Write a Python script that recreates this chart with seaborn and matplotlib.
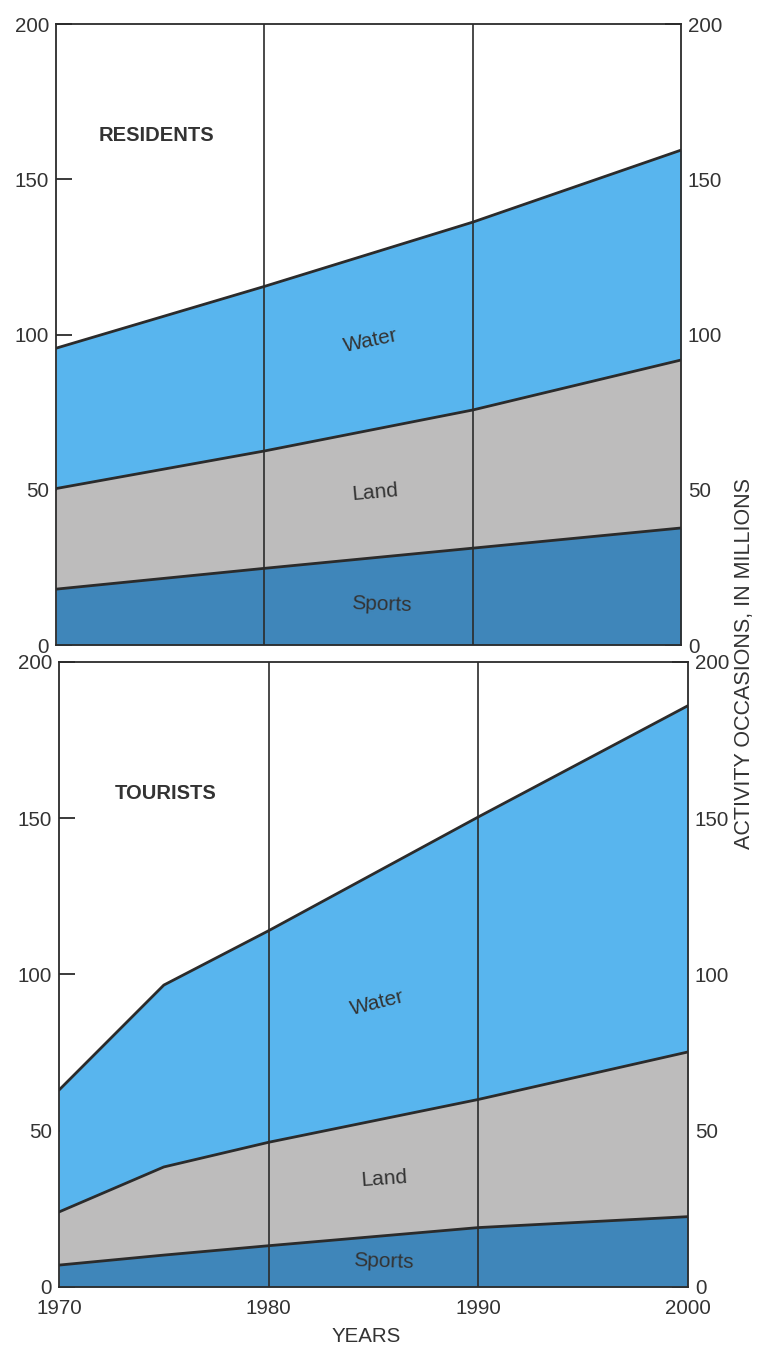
import matplotlib
matplotlib.use("Agg")
import matplotlib.pyplot as plt
import seaborn as sns
import pandas as pd

sns.set_theme(style="white")
plt.rcParams["font.family"] = ["Liberation Sans", "DejaVu Sans"]

# Cumulative layer tops (activity occasions, millions)
res_years = [1970, 1980, 1990, 2000]
res_sports = [18, 24.7, 31.2, 37.7]
res_land = [50.4, 62.5, 75.7, 91.8]
res_water = [95.6, 115.5, 136.2, 159.4]

tour_years = [1970, 1975, 1980, 1990, 2000]
tour_sports = [7, 10.2, 13.2, 19.0, 22.5]
tour_land = [24, 38.4, 46.3, 60, 75.2]
tour_water = [63, 96.6, 114, 150.4, 186]

layer_names = ["Sports", "Land", "Water"]
layer_colors = {"Sports": "#3f86ba", "Land": "#bdbcbc", "Water": "#58b5ee"}
y_ticks = [0, 50, 100, 150, 200]
x_ticks = [1970, 1980, 1990, 2000]

INK = "#2b2b2b"
TEXT = "#333333"
FS = 14.8

fig = plt.figure(figsize=(7.6, 13.52), dpi=100)
ax_top = fig.add_axes([0.0737, 0.5229, 0.8224, 0.4593])
ax_bot = fig.add_axes([0.0776, 0.0481, 0.8276, 0.4623])


def draw_panel(ax, years, sports, land, water, title, title_xy, labels):
    df = pd.DataFrame({"year": years, "Sports": sports, "Land": land, "Water": water})
    base = [0] * len(years)
    for name in layer_names:
        ax.fill_between(df["year"], base, df[name], color=layer_colors[name],
                        linewidth=0, zorder=1)
        base = list(df[name])
    long = df.melt(id_vars="year", var_name="layer", value_name="value")
    sns.lineplot(data=long, x="year", y="value", units="layer", estimator=None,
                 color=INK, linewidth=2.0, ax=ax, zorder=3, legend=False)
    for yr in (1980, 1990):
        ax.axvline(yr, color=INK, linewidth=1.2, zorder=2)

    ax.set_xlim(1970, 2000)
    ax.set_ylim(0, 200)
    ax.set_xlabel("")
    ax.set_ylabel("")
    ax.set_yticks(y_ticks)
    ax.set_xticks(x_ticks)
    for sp in ax.spines.values():
        sp.set_color(INK)
        sp.set_linewidth(1.3)
        sp.set_visible(True)
    ax.tick_params(axis="y", which="major", direction="in", length=11.5, width=1.3,
                   color=INK, labelsize=FS, labelcolor=TEXT, pad=5,
                   left=True, right=True, labelleft=True, labelright=True)
    ax.tick_params(axis="x", length=0, labelsize=FS, labelcolor=TEXT, pad=9)

    ax.text(title_xy[0], title_xy[1], title, fontsize=14.5, fontweight="bold",
            color=TEXT, ha="center", va="center")
    for text, (x, y, rot) in labels.items():
        ax.text(x, y, text, fontsize=15, color=TEXT, ha="center", va="center",
                rotation=rot, zorder=4)


draw_panel(ax_top, res_years, res_sports, res_land, res_water, "RESIDENTS",
           (1974.8, 164),
           {"Water": (1985.1, 98, 12), "Land": (1985.3, 49, 5), "Sports": (1985.6, 13, -2)})
draw_panel(ax_bot, tour_years, tour_sports, tour_land, tour_water, "TOURISTS",
           (1975.1, 158),
           {"Water": (1985.2, 91, 14), "Land": (1985.5, 34.5, 4), "Sports": (1985.5, 8, -2)})

ax_top.tick_params(axis="x", labelbottom=False)

fig.text(0.482, 0.0115, "YEARS", fontsize=FS, color=TEXT, ha="center", va="center")
fig.text(0.980, 0.509, "ACTIVITY OCCASIONS, IN MILLIONS", rotation=90,
         fontsize=15.5, color=TEXT, ha="center", va="center")

fig.savefig("out.png", dpi=100, facecolor="white")
